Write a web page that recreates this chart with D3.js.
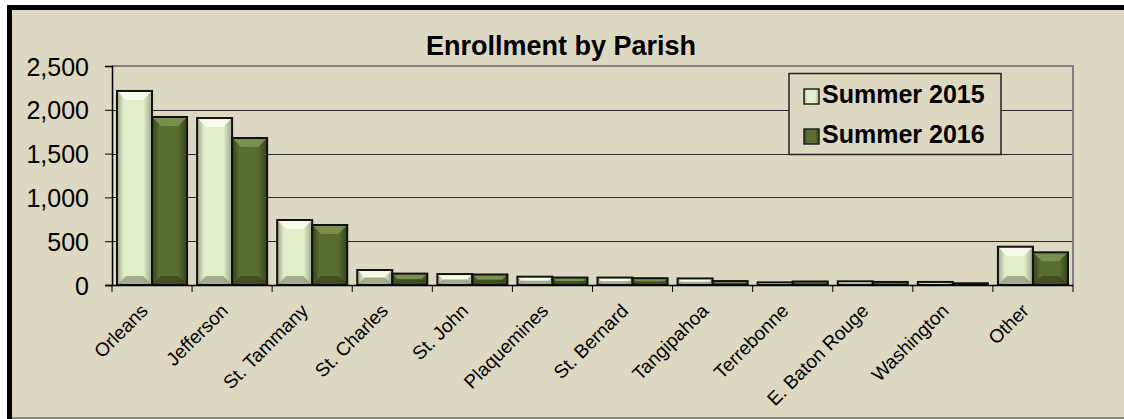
<!DOCTYPE html>
<html>
<head>
<meta charset="utf-8">
<script src="https://cdn.jsdelivr.net/npm/d3@7"></script>
<style>
  body { margin: 0; background: #fff; }
  text { font-family: Arial, "Liberation Sans", sans-serif; fill: #000; }
</style>
</head>
<body>
<div id="chart"></div>
<script>
var parishes = ["Orleans", "Jefferson", "St. Tammany", "St. Charles", "St. John", "Plaquemines",
  "St. Bernard", "Tangipahoa", "Terrebonne", "E. Baton Rouge", "Washington", "Other"];
var seriesNames = ["Summer 2015", "Summer 2016"];
var summer2015 = [2215, 1906, 742, 171, 125, 95, 85, 75, 30, 42, 35, 437];
var summer2016 = [1918, 1678, 685, 130, 120, 85, 78, 45, 40, 35, 20, 373];
var yTicks = [0, 500, 1000, 1500, 2000, 2500];

var width = 1124, height = 419;
var plot = {left: 112, right: 1073, top: 66, bottom: 285};

var svg = d3.select("#chart").append("svg").attr("width", width).attr("height", height);
var defs = svg.append("defs");

// background + frame
svg.append("rect").attr("x", 9).attr("y", 8).attr("width", width - 9).attr("height", height - 8).attr("fill", "#ddd8c2");
svg.append("line").attr("x1", 9).attr("x2", width).attr("y1", 7.5).attr("y2", 7.5).attr("stroke", "#000").attr("stroke-width", 5);
svg.append("line").attr("x1", 9.5).attr("x2", 9.5).attr("y1", 5).attr("y2", height).attr("stroke", "#000").attr("stroke-width", 5);
svg.append("line").attr("x1", 12).attr("x2", width).attr("y1", 418).attr("y2", 418).attr("stroke", "#8a8a80").attr("stroke-width", 2);

// gradients for the bevelled bars
var pal = [
  {name: "g15", edge: "#9ea78a", mid: "#e3efca", light: "#f8fcec", dark: "#8a9276"},
  {name: "g16", edge: "#34421a", mid: "#586d2e", light: "#7d9352", dark: "#34431a"}
];
pal.forEach(function(p) {
  var g = defs.append("linearGradient").attr("id", p.name).attr("x1", 0).attr("x2", 1).attr("y1", 0).attr("y2", 0);
  g.append("stop").attr("offset", "0%").attr("stop-color", p.edge);
  g.append("stop").attr("offset", "20%").attr("stop-color", p.mid);
  g.append("stop").attr("offset", "75%").attr("stop-color", p.mid);
  g.append("stop").attr("offset", "100%").attr("stop-color", p.edge);
});

var x = d3.scaleBand().domain(parishes).range([plot.left, plot.right]).padding(0);
var xSub = d3.scaleBand().domain(seriesNames).range([0, x.bandwidth()]).paddingInner(0).paddingOuter(0.143);
var y = d3.scaleLinear().domain([0, 2500]).range([plot.bottom, plot.top]);

// gridlines
svg.append("g").selectAll("line").data(yTicks.slice(1, -1)).enter().append("line")
  .attr("x1", plot.left).attr("x2", plot.right)
  .attr("y1", function(d) { return Math.round(y(d)) + 0.5; })
  .attr("y2", function(d) { return Math.round(y(d)) + 0.5; })
  .attr("stroke", "#2a2a2a").attr("stroke-width", 1);
// plot area border (top + right)
svg.append("path").attr("d", "M" + plot.left + "," + plot.top + "H" + plot.right + "V" + plot.bottom)
  .attr("fill", "none").attr("stroke", "#808080").attr("stroke-width", 2);

var data = parishes.map(function(p, i) {
  return {cat: p, vals: [{s: seriesNames[0], v: summer2015[i], k: 0}, {s: seriesNames[1], v: summer2016[i], k: 1}]};
});

var groups = svg.append("g").selectAll("g").data(data).enter().append("g")
  .attr("transform", function(d) { return "translate(" + x(d.cat) + ",0)"; });

var bars = groups.selectAll("g").data(function(d) { return d.vals; }).enter().append("g");

bars.each(function(d) {
  var g = d3.select(this);
  var p = pal[d.k];
  var x0 = xSub(d.s), w = xSub.bandwidth();
  var y0 = y(d.v), h = plot.bottom - y0;
  var b = Math.min(9, h / 2);
  g.append("rect").attr("x", x0).attr("y", y0).attr("width", w).attr("height", h).attr("fill", "url(#" + p.name + ")");
  // top bevel
  g.append("path").attr("d", "M" + x0 + "," + y0 + "H" + (x0 + w) + "L" + (x0 + w - b) + "," + (y0 + b) + "H" + (x0 + b) + "Z")
    .attr("fill", p.light).attr("opacity", 0.9);
  // bottom bevel
  g.append("path").attr("d", "M" + x0 + "," + (y0 + h) + "H" + (x0 + w) + "L" + (x0 + w - b) + "," + (y0 + h - b) + "H" + (x0 + b) + "Z")
    .attr("fill", p.dark).attr("opacity", 0.7);
  g.append("rect").attr("x", x0).attr("y", y0).attr("width", w).attr("height", h)
    .attr("fill", "none").attr("stroke", "#111").attr("stroke-width", 2);
});

// axes
var yAxis = d3.axisLeft(y).tickValues(yTicks).tickSize(7).tickPadding(16).tickFormat(d3.format(","));
var gy = svg.append("g").attr("transform", "translate(" + plot.left + ",0)").call(yAxis);
gy.select(".domain").attr("stroke", "#000").attr("stroke-width", 1.5);
gy.selectAll(".tick line").attr("stroke", "#000");
gy.selectAll("text").style("font-size", "25px").attr("fill", "#000").attr("dy", "0.36em");

var bottom = svg.append("g");
bottom.append("line").attr("x1", plot.left - 7).attr("x2", plot.right).attr("y1", plot.bottom + 0.5).attr("y2", plot.bottom + 0.5)
  .attr("stroke", "#000").attr("stroke-width", 1.5);
var tickPos = parishes.map(function(p) { return x(p); }).concat([plot.right]);
bottom.selectAll("line.t").data(tickPos).enter().append("line").attr("class", "t")
  .attr("x1", function(d) { return d; }).attr("x2", function(d) { return d; })
  .attr("y1", plot.bottom).attr("y2", plot.bottom + 7).attr("stroke", "#000").attr("stroke-width", 1);
bottom.selectAll("text").data(parishes).enter().append("text")
  .attr("transform", function(d) { return "translate(" + (x(d) + x.bandwidth() / 2 - 3) + "," + (plot.bottom + 27) + ") rotate(-45)"; })
  .attr("text-anchor", "end")
  .style("font-size", "19px")
  .text(function(d) { return d; });

// title
svg.append("text").attr("x", 561).attr("y", 55).attr("text-anchor", "middle")
  .style("font-size", "27px").style("font-weight", "bold").text("Enrollment by Parish");

// legend
var leg = svg.append("g");
leg.append("rect").attr("x", 789).attr("y", 73.5).attr("width", 212).attr("height", 81)
  .attr("fill", "#ddd8c2").attr("stroke", "#222").attr("stroke-width", 1.5);
seriesNames.forEach(function(s, i) {
  var yy = 89 + i * 40;
  leg.append("rect").attr("x", 804).attr("y", yy).attr("width", 15).attr("height", 15)
    .attr("fill", "url(#" + pal[i].name + ")").attr("stroke", "#222").attr("stroke-width", 1.5);
  leg.append("text").attr("x", 822).attr("y", yy + 14).style("font-size", "25px").style("font-weight", "bold").text(s);
});
</script>
</body>
</html>
